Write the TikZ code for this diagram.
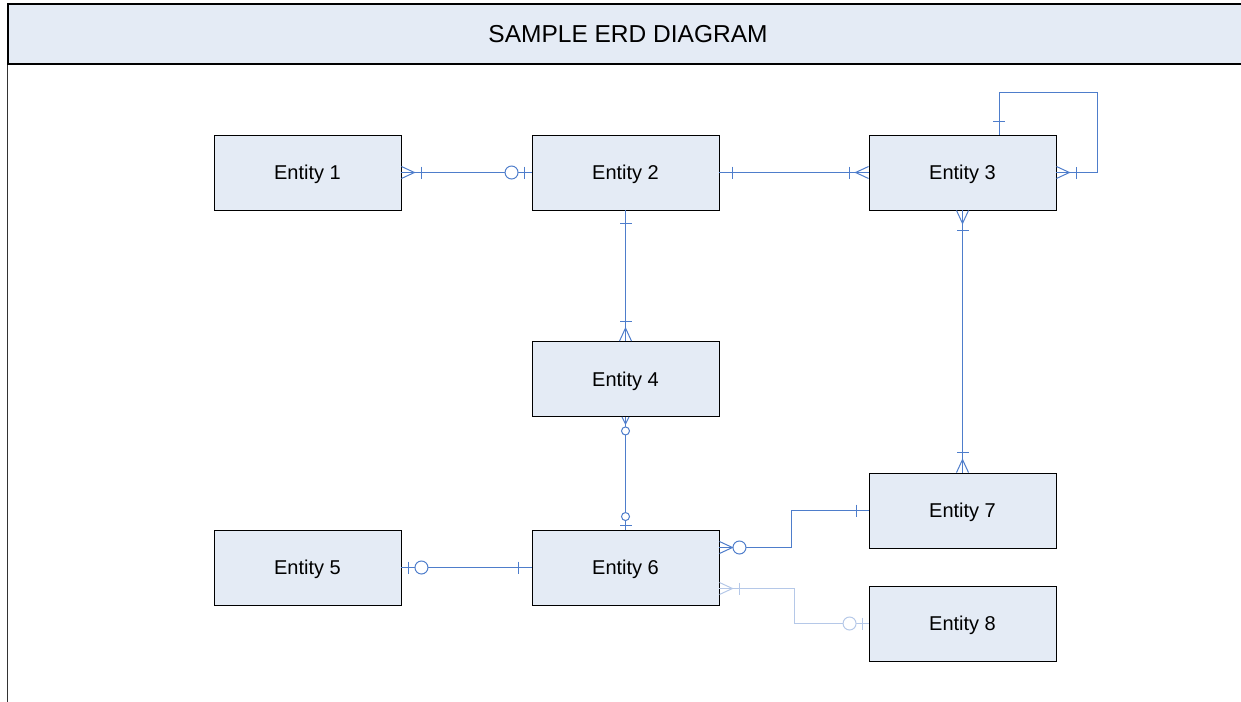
\documentclass[tikz,border=0pt]{standalone}
\usepackage{fontspec}
\setmainfont{Liberation Sans}
\usepackage{xcolor}
\usetikzlibrary{decorations.markings}
\definecolor{entfill}{HTML}{E4EBF5}
\definecolor{relblue}{HTML}{4E7DCB}
\definecolor{rellight}{HTML}{B5C8E8}

\begin{document}
\begin{tikzpicture}[x=1pt,y=-1pt]
\tikzset{
  tick at/.style={postaction={decorate,decoration={markings,mark=at position #1 with {\draw (0,-6)--(0,6);}}}},
  ring at/.style={postaction={decorate,decoration={markings,mark=at position #1 with {\draw[fill=white] (0,0) circle (6.5pt);}}}},
  small ring at/.style={postaction={decorate,decoration={markings,mark=at position #1 with {\draw[fill=white] (0,0) circle (4pt);}}}},
  crow start/.style={postaction={decorate,decoration={markings,mark=at position 13pt with {\draw (-13,-6)--(0,0)--(-13,6);}}}},
  small crow start/.style={postaction={decorate,decoration={markings,mark=at position 7pt with {\draw (-7,-3.5)--(0,0)--(-7,3.5);}}}},
  crow end/.style={postaction={decorate,decoration={markings,mark=at position -13pt with {\draw (13,-6)--(0,0)--(13,6);}}}}
}
\tikzstyle{entity}=[draw=black, fill=entfill, line width=0.9pt, minimum width=187pt, minimum height=75pt, text depth=0pt, font=\fontsize{20}{24}\selectfont]
\tikzstyle{titlebar}=[draw=black, fill=entfill, line width=1.2pt, minimum width=1240pt, minimum height=60pt, font=\fontsize{24.5}{29}\selectfont]
\tikzstyle{rel}=[draw=relblue, line width=1pt]
\tikzstyle{rel light}=[draw=rellight, line width=1pt]

\useasboundingbox (0,0) rectangle (1241,701);

% frame
\node[titlebar](title) at (628,34){SAMPLE ERD DIAGRAM};
\draw[gray!40!black, line width=1pt] (title.south west) -- ++(0,640);

% entities
\node[entity](e1) at (307.5,172.5){Entity 1};
\node[entity](e2) at (625.5,172.5){Entity 2};
\node[entity](e3) at (962.5,172.5){Entity 3};
\node[entity](e4) at (625.5,379){Entity 4};
\node[entity](e5) at (307.5,567.5){Entity 5};
\node[entity](e6) at (625.5,567.5){Entity 6};
\node[entity](e7) at (962.5,510.5){Entity 7};
\node[entity](e8) at (962.5,623.5){Entity 8};

% relationships
\draw[rel, crow start, tick at=20pt, ring at=-20pt, tick at=-7pt] (e1) -- (e2);
\draw[rel, tick at=13pt, tick at=-19pt, crow end] (e2) -- (e3);
\draw[rel, tick at=13.5pt, tick at=-20pt, crow end] ([xshift=36.5pt]e3.north) |- ++(98,-42) |- (e3.east);
\draw[rel, tick at=13.5pt, tick at=-20pt, crow end] (e2) -- (e4);
\draw[rel, small crow start, small ring at=14pt, small ring at=-13pt, tick at=-4pt] (e4) -- (e6);
\draw[rel, crow start, tick at=20pt, tick at=-20pt, crow end] (e3) -- (e7);
\draw[rel, tick at=7pt, ring at=20pt, tick at=-13pt] (e5) -- (e6);
\draw[rel, crow start, ring at=20pt, tick at=-12pt] ([yshift=20pt]e6.east) -- ++(72,0) |- (e7.west);
\draw[rel light, crow start, tick at=20pt, ring at=-19pt, tick at=-6pt] ([yshift=-21pt]e6.east) -- ++(75,0) |- (e8.west);
\end{tikzpicture}
\end{document}
